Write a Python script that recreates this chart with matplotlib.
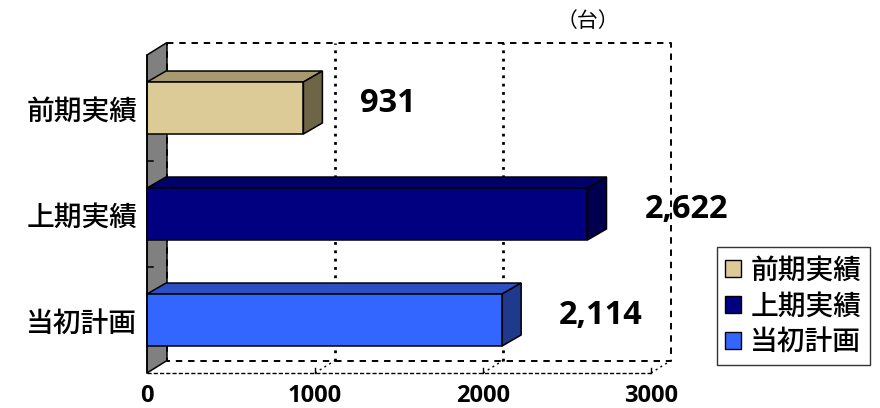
import matplotlib.pyplot as plt
from matplotlib.patches import Polygon, Patch

plt.rcParams['font.family'] = ['Noto Sans CJK JP', 'DejaVu Sans']

# categories listed bottom to top
categories = ['当初計画', '上期実績', '前期実績']
values = [2114, 2622, 931]
value_labels = ['2,114', '2,622', '931']
front_colors = ['#3366FF', '#000080', '#DDCB97']
top_colors = ['#2B50C4', '#000068', '#A89A70']
side_colors = ['#1F3A8C', '#00004E', '#6E6446']
legend_order = ['前期実績', '上期実績', '当初計画']
x_ticks = [0, 1000, 2000, 3000]
x_max = 3000
unit_label = '（台）'

W, H = 880, 408
fig = plt.figure(figsize=(W / 100, H / 100), dpi=100)

# front plane of the plot box, in pixels
left, right, bottom, top = 147, 651, 373, 55
ax = fig.add_axes([left / W, 1 - bottom / H, (right - left) / W, (bottom - top) / H])
n = len(categories)
ax.set_xlim(0, x_max)
ax.set_ylim(0, n)

# pseudo-3D depth, converted from pixels to data units
px_x = x_max / (right - left)
px_y = n / (bottom - top)
wall_dx, wall_dy = 20 * px_x, 12.5 * px_y
bar_dx, bar_dy = 19 * px_x, 11 * px_y
bar_h = 0.245

lw = 1.1
dash = (0, (3.3, 3.0))
dots = (0, (1.0, 2.0))

# left wall
ax.add_patch(Polygon([(0, 0), (wall_dx, wall_dy), (wall_dx, n + wall_dy), (0, n)],
                     closed=True, facecolor='#808080', edgecolor='black', lw=lw,
                     clip_on=False, zorder=1))

# back plane outline and gridlines
bx0, bx1 = wall_dx, x_max + wall_dx
by0, by1 = wall_dy, n + wall_dy
ax.plot([bx0, bx1, bx1, bx0, bx0], [by1, by1, by0, by0, by1], color='black',
        lw=1.4, linestyle=dash, clip_on=False, zorder=2)
for t in x_ticks[1:-1]:
    ax.plot([t + wall_dx] * 2, [by0, by1], color='black', lw=2.0,
            linestyle=dots, clip_on=False, zorder=2)
    ax.plot([t, t + wall_dx], [0, wall_dy], color='black', lw=1.0,
            linestyle=(0, (1.5, 2.5)), clip_on=False, zorder=2)
ax.plot([x_max, x_max + wall_dx], [0, wall_dy], color='black', lw=1.0,
        linestyle=(0, (1.5, 2.5)), clip_on=False, zorder=2)

# floor front edge with small ticks
ax.plot([0, x_max], [0, 0], color='black', lw=1.0, linestyle=(0, (3, 1.5)),
        clip_on=False, zorder=2)
for t in x_ticks[1:]:
    ax.plot([t, t], [0, 5 * px_y], color='black', lw=1.0, clip_on=False, zorder=2)

# wall front edge and category separators
ax.plot([0, 0], [0, n], color='black', lw=lw, clip_on=False, zorder=5)
for k in range(1, n):
    ax.plot([0, 6 * px_x], [k, k], color='black', lw=lw, clip_on=False, zorder=5)

# bars
for i, v in enumerate(values):
    yc = i + 0.5
    y0, y1 = yc - bar_h, yc + bar_h
    ax.add_patch(Polygon([(0, y1), (v, y1), (v + bar_dx, y1 + bar_dy), (bar_dx, y1 + bar_dy)],
                         closed=True, facecolor=top_colors[i], edgecolor='black', lw=lw,
                         clip_on=False, zorder=3))
    ax.add_patch(Polygon([(v, y0), (v + bar_dx, y0 + bar_dy), (v + bar_dx, y1 + bar_dy), (v, y1)],
                         closed=True, facecolor=side_colors[i], edgecolor='black', lw=lw,
                         clip_on=False, zorder=3))
    ax.add_patch(Polygon([(0, y0), (v, y0), (v, y1), (0, y1)],
                         closed=True, facecolor=front_colors[i], edgecolor='black', lw=lw,
                         clip_on=False, zorder=4))
    ax.annotate(value_labels[i], xy=(v, yc), xytext=(41, 3), textcoords='offset points',
                ha='left', va='center', fontsize=23.5, fontweight='bold',
                family='Open Sans')

# axes text
for s in ax.spines.values():
    s.set_visible(False)
ax.set_yticks([i + 0.5 for i in range(n)], categories)
ax.set_xticks(x_ticks, [str(t) for t in x_ticks])
ax.tick_params(axis='y', length=0, pad=7, labelsize=20)
ax.tick_params(axis='x', length=0, pad=8)
for lab in ax.get_yticklabels():
    lab.set_fontweight('medium')
for lab in ax.get_xticklabels():
    lab.set_fontfamily('Open Sans')
    lab.set_fontweight('bold')
    lab.set_fontsize(17)
ax.set_facecolor('none')

fig.text(588 / W, 1 - 21 / H, unit_label, ha='center', va='center', fontsize=15)

handles = [Patch(facecolor=front_colors[categories.index(c)], edgecolor='black', lw=1.0, label=c)
           for c in legend_order]
leg = fig.legend(handles=handles, loc='upper left', bbox_to_anchor=(717 / W, 1 - 247 / H),
                 frameon=True, fancybox=False, edgecolor='black',
                 prop={'size': 20, 'weight': 'medium'},
                 handlelength=0.55, handleheight=0.55, handletextpad=0.35,
                 labelspacing=0.25, borderpad=0.3, borderaxespad=0)
leg.get_frame().set_linewidth(1.0)

fig.savefig('out.png', dpi=100)
